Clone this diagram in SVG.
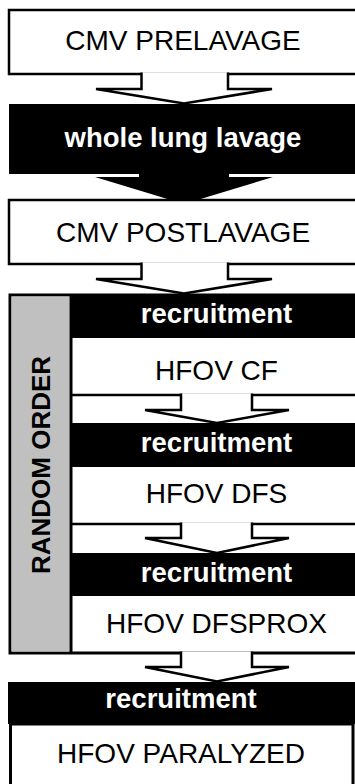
<svg xmlns="http://www.w3.org/2000/svg" width="355" height="784" viewBox="0 0 355 784">
<style>
.box{fill:#fff;stroke:#000;stroke-width:2.5}
.blk{fill:#000}
.t{font-family:"Liberation Sans",Arial,sans-serif;font-size:28px;fill:#000;text-anchor:middle}
.tb{font-family:"Liberation Sans",Arial,sans-serif;font-size:27.5px;font-weight:bold;fill:#fff;text-anchor:middle}
.ha{fill:#fff;stroke:#000;stroke-width:2.5;stroke-linejoin:miter}
.ln{stroke:#000;stroke-width:2.5;fill:none}
</style>
<rect width="355" height="784" fill="#fff"/>

<g id="cmv-prelavage">
<rect class="box" x="9" y="10" width="360" height="64"/>
<text class="t" x="183" y="50">CMV PRELAVAGE</text>
</g>

<g id="whole-lung-lavage">
<rect class="blk" x="9" y="104" width="360" height="70"/>
<text class="tb" x="183" y="147">whole lung lavage</text>
</g>

<g id="cmv-postlavage-arrowhead">
<polygon class="blk" points="139,172 139,177 95,177 184,204 273,177 229,177 229,172"/>
</g>

<g id="cmv-postlavage">
<rect class="box" x="9" y="200" width="360" height="64"/>
<text class="t" x="183" y="242">CMV POSTLAVAGE</text>
</g>

<g id="random-order">
<rect x="10" y="295" width="360" height="358" fill="#fff" stroke="#000" stroke-width="3"/>
<rect x="11.5" y="296.5" width="58" height="355" fill="#c0c0c0"/>
<line x1="71" y1="294" x2="71" y2="654" stroke="#000" stroke-width="3"/>
<text transform="translate(50,465) rotate(-90)" font-family="'Liberation Sans',Arial,sans-serif" font-size="26" font-weight="bold" fill="#000" text-anchor="middle">RANDOM ORDER</text>
</g>

<g id="recruitment-1">
<rect class="blk" x="71" y="294" width="290" height="44"/>
<text class="tb" x="216.5" y="323">recruitment</text>
</g>

<g id="hfov-cf">
<line class="ln" x1="72" y1="395" x2="360" y2="395"/>
<text class="t" x="216.5" y="380">HFOV CF</text>
</g>

<g id="recruitment-2">
<rect class="blk" x="71" y="423" width="290" height="44"/>
<text class="tb" x="216.5" y="452">recruitment</text>
</g>

<g id="hfov-dfs">
<line class="ln" x1="72" y1="524" x2="360" y2="524"/>
<text class="t" x="216.5" y="503">HFOV DFS</text>
</g>

<g id="recruitment-3">
<rect class="blk" x="71" y="553" width="290" height="43"/>
<text class="tb" x="216.5" y="582">recruitment</text>
</g>

<g id="hfov-dfsprox">
<text class="t" x="216.5" y="633">HFOV DFSPROX</text>
</g>

<g id="connectors">
<polyline class="ha" points="141.5,72.5 141.5,89 96,89 184,103.5 272,89 228,89 228,72.5"/>
<polyline class="ha" points="141.5,262.5 141.5,279 96,279 184,293.5 272,279 228,279 228,262.5"/>
<polyline class="ha" points="181,393.5 181,410 145,410 217,423 289,410 252,410 252,393.5"/>
<polyline class="ha" points="181,522.5 181,538 145,538 217,553 289,538 252,538 252,522.5"/>
<polyline class="ha" points="181,651.5 181,667 145,667 217,681.5 289,667 252,667 252,651.5"/>
</g>

<g id="recruitment-4">
<rect class="blk" x="8" y="682" width="360" height="42"/>
<text class="tb" x="181" y="708">recruitment</text>
</g>

<g id="hfov-paralyzed">
<rect x="10.5" y="724" width="342.5" height="80" fill="#fff" stroke="#000" stroke-width="3"/>
<text class="t" x="181" y="763">HFOV PARALYZED</text>
</g>
</svg>
